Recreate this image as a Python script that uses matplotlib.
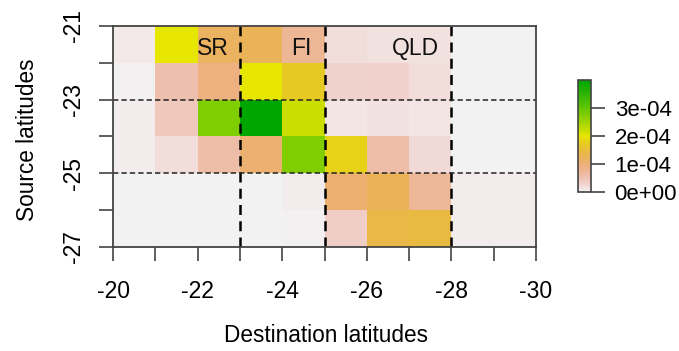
import numpy as np
import matplotlib
matplotlib.use('Agg')
import matplotlib.pyplot as plt
from matplotlib.colors import LinearSegmentedColormap, hsv_to_rgb

plt.rcParams['font.family'] = ['Liberation Sans', 'DejaVu Sans']

# destination latitude cell edges (x) and source latitude cell edges (y)
dest_edges = [-20, -21, -22, -23, -24, -25, -26, -27, -28, -29, -30]
source_edges = [-21, -22, -23, -24, -25, -26, -27]

# connectivity values (x 1e-4), rows from -21 (top) down to -27
row_m21 = [0.08, 2.0, 1.2, 1.25, 0.75, 0.2, 0.15, 0.15, 0.0, 0.0]
row_m22 = [0.02, 0.55, 0.95, 2.0, 1.7, 0.3, 0.32, 0.2, 0.0, 0.0]
row_m23 = [0.05, 0.45, 2.75, 4.0, 2.2, 0.12, 0.15, 0.12, 0.0, 0.0]
row_m24 = [0.05, 0.2, 0.6, 1.05, 2.75, 1.8, 0.6, 0.22, 0.0, 0.0]
row_m25 = [0.0, 0.0, 0.0, 0.0, 0.06, 1.05, 1.25, 0.72, 0.05, 0.06]
row_m26 = [0.0, 0.0, 0.0, 0.0, 0.02, 0.35, 1.4, 1.45, 0.05, 0.06]

region_names = ['SR', 'FI', 'QLD']
region_x = [-22.35, -24.45, -27.15]
region_y = [-21.6, -21.6, -21.6]

vert_breaks = [-23, -25, -28]
horiz_breaks = [-23, -25]

cbar_ticks = [0, 1e-4, 2e-4, 3e-4]
cbar_labels = ['0e+00', '1e-04', '2e-04', '3e-04']


def terrain_cmap(n=256):
    # R's terrain.colors, reversed so low values are pale grey
    k = n // 2
    h1 = np.linspace(4 / 12, 2 / 12, k)
    s1 = np.ones(k)
    v1 = np.linspace(0.65, 0.9, k)
    h2 = np.linspace(2 / 12, 0, n - k + 1)[1:]
    s2 = np.linspace(1, 0, n - k + 1)[1:]
    v2 = np.linspace(0.9, 0.95, n - k + 1)[1:]
    hsv = np.column_stack([np.concatenate([h1, h2]),
                           np.concatenate([s1, s2]),
                           np.concatenate([v1, v2])])
    rgb = hsv_to_rgb(hsv)[::-1]
    return LinearSegmentedColormap.from_list('terrain_r', rgb)


def main():
    values = np.array([row_m21, row_m22, row_m23, row_m24, row_m25, row_m26]) * 1e-4

    fig = plt.figure(figsize=(6.79, 3.51), dpi=100)
    ax = fig.add_axes([113 / 679, 1 - 247 / 351, (536 - 113) / 679, (247 - 26) / 351])

    mesh = ax.pcolormesh(dest_edges, source_edges, values, cmap=terrain_cmap(),
                         vmin=0, vmax=4.0e-4, shading='flat')

    for x in vert_breaks:
        ax.axvline(x, color='black', linestyle=(0, (4, 2.5)), linewidth=1.8)
    for y in horiz_breaks:
        ax.axhline(y, color='#222222', linestyle=(0, (3.5, 2)), linewidth=1.1)

    for name, x, y in zip(region_names, region_x, region_y):
        ax.text(x, y, name, ha='center', va='center', fontsize=16.5, color='#111111')

    ax.set_xlim(-20, -30)
    ax.set_ylim(-27, -21)
    ax.set_xticks(range(-20, -31, -1))
    ax.set_xticklabels(['-20', '', '-22', '', '-24', '', '-26', '', '-28', '', '-30'])
    ax.set_yticks(range(-27, -20))
    ax.set_yticklabels(['-27', '', '-25', '', '-23', '', '-21'], rotation=90, va='center')
    ax.tick_params(length=10, width=1.2, color='#444444', labelsize=16.5)
    ax.tick_params(axis='x', pad=14)
    ax.tick_params(axis='y', pad=10)
    for sp in ax.spines.values():
        sp.set_color('#444444')
        sp.set_linewidth(1.3)

    fig.text(326 / 679, 1 - 336 / 351, 'Destination latitudes', ha='center', va='center', fontsize=16.3)
    fig.text(28 / 679, 1 - 140 / 351, 'Source latitudes', ha='center', va='center',
             rotation=90, fontsize=16.3)

    cax = fig.add_axes([578 / 679, 1 - 192 / 351, 13 / 679, 112 / 351])
    cb = fig.colorbar(mesh, cax=cax, ticks=cbar_ticks)
    cb.ax.set_yticklabels(cbar_labels)
    cb.ax.tick_params(length=10, width=1.2, color='#444444', labelsize=16, pad=7)
    cb.outline.set_edgecolor('#444444')
    cb.outline.set_linewidth(1.2)

    fig.savefig('out.png', dpi=100)


if __name__ == "__main__":
    main()
